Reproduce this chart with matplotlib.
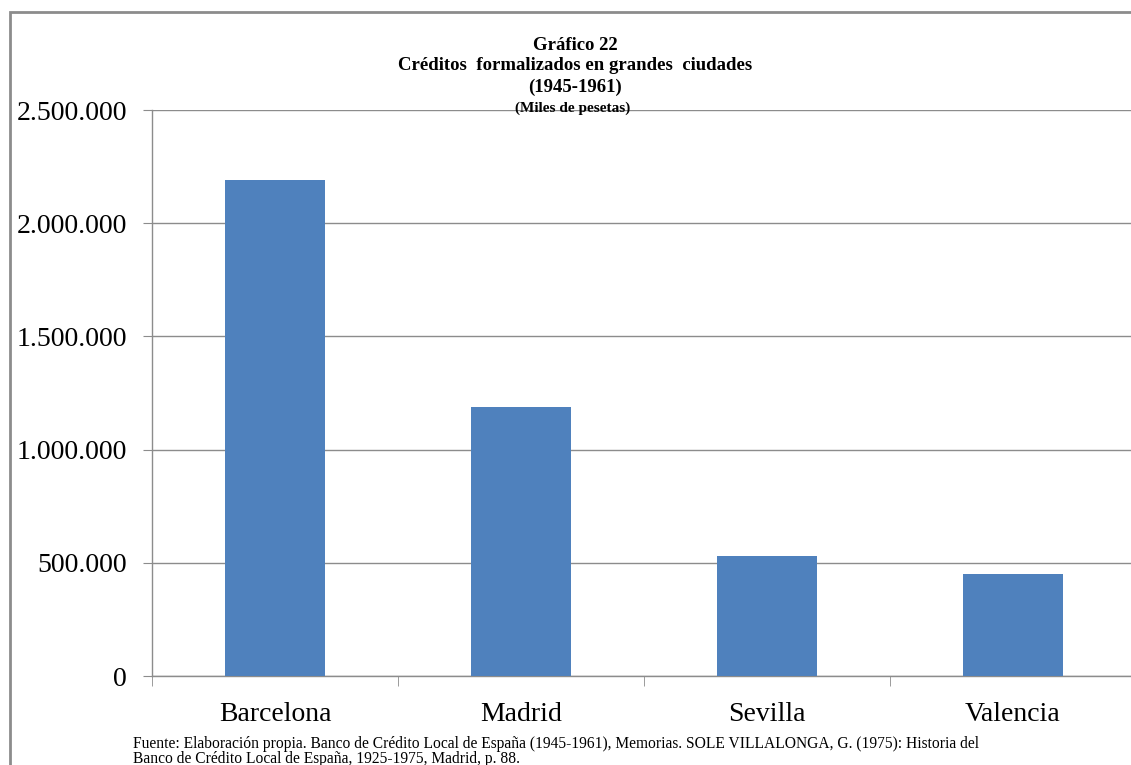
import matplotlib.pyplot as plt
from matplotlib.patches import Rectangle
from matplotlib.ticker import FuncFormatter

# Créditos formalizados por ciudad, 1945-1961 (miles de pesetas)
ciudades = ["Barcelona", "Madrid", "Sevilla", "Valencia"]
creditos = [2190000, 1188000, 530000, 450000]
y_ticks = [0, 500000, 1000000, 1500000, 2000000, 2500000]

titulo = ["Gráfico 22", "Créditos  formalizados en grandes  ciudades", "(1945-1961)"]
subtitulo = "(Miles de pesetas)"
fuente = ["Fuente: Elaboración propia. Banco de Crédito Local de España (1945-1961), Memorias. "
          "SOLE VILLALONGA, G. (1975): Historia del",
          "Banco de Crédito Local de España, 1925-1975, Madrid, p. 88."]

W, H = 1131, 765
serif = "Liberation Serif"
gris = "#8c8c8c"

fig = plt.figure(figsize=(W / 100, H / 100), dpi=100)
fig.patch.set_facecolor("white")

# marco del gráfico
fig.patches.append(Rectangle((10 / W, -0.1), 1.2, 1 - 12 / H + 0.1, transform=fig.transFigure,
                             fill=False, edgecolor=gris, linewidth=2, clip_on=False))

ax = fig.add_axes([152 / W, 1 - 676 / H, (1136 - 152) / W, (676 - 110) / H])
ax.bar(range(len(ciudades)), creditos, width=0.41, color="#4f81bd", zorder=3)

ax.set_xlim(-0.5, len(ciudades) - 0.5)
ax.set_ylim(0, 2500000)
ax.set_yticks(y_ticks)
ax.yaxis.set_major_formatter(FuncFormatter(lambda v, p: f"{int(v):,}".replace(",", ".")))
ax.grid(axis="y", color=gris, linewidth=1, zorder=0)

ax.set_xticks(range(len(ciudades)))
ax.set_xticklabels(ciudades)
ax.set_xticks([i - 0.5 for i in range(len(ciudades) + 1)], minor=True)
ax.tick_params(axis="x", which="major", length=0, pad=19)
ax.tick_params(axis="x", which="minor", length=7, color=gris, direction="out")
ax.tick_params(axis="y", length=6.5, color=gris, direction="out", pad=11.5)
for lab in ax.get_xticklabels() + ax.get_yticklabels():
    lab.set_fontfamily(serif)
    lab.set_fontsize(20)

for side in ["top", "right"]:
    ax.spines[side].set_visible(False)
for side in ["left", "bottom"]:
    ax.spines[side].set_color(gris)
    ax.spines[side].set_linewidth(1)

# títulos
for i, linea in enumerate(titulo):
    fig.text(575 / W, 1 - (45 + 21 * i) / H, linea, ha="center", va="center",
             fontfamily=serif, fontweight="bold", fontsize=13.5)
fig.text(573 / W, 1 - 108 / H, subtitulo, ha="center", va="center",
         fontfamily=serif, fontweight="bold", fontsize=11)

for i, linea in enumerate(fuente):
    fig.text(133 / W, 1 - (744 + 15 * i) / H, linea, ha="left", va="center",
             fontfamily=serif, fontsize=11.2)

fig.savefig("out.png", dpi=100)
